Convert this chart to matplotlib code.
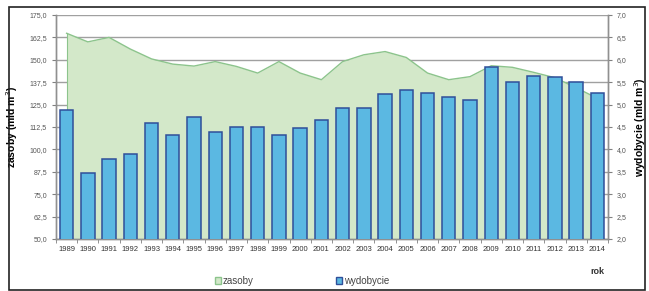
import matplotlib
matplotlib.use("Agg")
import matplotlib.pyplot as plt
from matplotlib.patches import Rectangle, Patch
import numpy as np

years = [str(y) for y in range(1989, 2015)]
zasoby = [164.8, 160.0, 162.5, 156.0, 150.5, 147.6, 146.5, 149.0, 146.3, 142.6,
          149.0, 142.6, 138.9, 149.0, 152.8, 154.6, 151.3, 142.6, 138.9, 140.6,
          146.7, 145.8, 143.0, 140.0, 134.4, 128.5]
wydobycie = [4.89, 3.47, 3.78, 3.90, 4.59, 4.33, 4.73, 4.38, 4.50, 4.50,
             4.33, 4.48, 4.65, 4.92, 4.92, 5.23, 5.32, 5.26, 5.18, 5.11,
             5.84, 5.50, 5.64, 5.62, 5.50, 5.26]
left_ticks = [50.0, 62.5, 75.0, 87.5, 100.0, 112.5, 125.0, 137.5, 150.0, 162.5, 175.0]
right_ticks = [2.0, 2.5, 3.0, 3.5, 4.0, 4.5, 5.0, 5.5, 6.0, 6.5, 7.0]

plt.rcParams['font.family'] = ['Liberation Sans', 'DejaVu Sans']

fig = plt.figure(figsize=(6.49, 2.91), dpi=100)
ax = fig.add_axes([56/649, 1-239/291, (608-56)/649, (239-15)/291])
x = np.arange(len(years))

area_fill = '#d3e8c9'
area_line = '#8cc48c'
bar_fill = '#5bb8e2'
bar_edge = '#2f4f9a'

ax.set_ylim(50, 175)
ax.set_xlim(-0.5, len(years) - 0.5)
ax.set_yticks(left_ticks)
ax.set_yticklabels([f"{v:.1f}".replace('.', ',') for v in left_ticks])
ax.grid(axis='y', color='#a0a0a0', linewidth=1.0, zorder=0)
ax.set_axisbelow(True)
ax.fill_between(x, 50, zasoby, color=area_fill, zorder=1, linewidth=0)
ax.plot(x, zasoby, color=area_line, linewidth=1.0, zorder=2)
ax.plot([x[0], x[0]], [50, zasoby[0]], color=area_line, linewidth=0.8, zorder=2)

ax2 = ax.twinx()
ax2.set_ylim(2.0, 7.0)
ax2.set_yticks(right_ticks)
ax2.set_yticklabels([f"{v:.1f}".replace('.', ',') for v in right_ticks])
ax2.bar(x, wydobycie, width=0.63, color=bar_fill, edgecolor=bar_edge, linewidth=1.1, zorder=3)

ax.set_xticks(x)
ax.set_xticklabels(years)
ax.set_xticks(np.arange(-0.5, len(years), 1), minor=True)
ax.tick_params(axis='x', which='major', length=0, labelsize=5.5, colors='#333333', pad=5)
ax.tick_params(axis='x', which='minor', length=3, color='#808080', direction='out')
ax.tick_params(axis='y', labelsize=5.0, colors='#555555', length=3, color='#808080')
ax2.tick_params(axis='y', labelsize=5.0, colors='#555555', length=3, color='#808080')

for a in (ax, ax2):
    a.spines['top'].set_visible(False)
    for s in ('left', 'right', 'bottom'):
        a.spines[s].set_color('#909090')
        a.spines[s].set_linewidth(1.0)

ax.set_ylabel('zasoby (mld m$^3$)', fontsize=7.5, fontweight='bold')
ax.yaxis.set_label_coords((20-56)/552, 0.5)
ax2.set_ylabel('wydobycie (mld m$^3$)', fontsize=7.5, fontweight='bold')
ax2.yaxis.set_label_coords((632-56)/552, 0.5)

fig.text(597/649, 1-271/291, 'rok', fontsize=6.5, fontweight='bold', ha='center', va='center', color='#333333')

handles = [Patch(facecolor=area_fill, edgecolor=area_line, label='zasoby'),
           Patch(facecolor=bar_fill, edgecolor=bar_edge, label='wydobycie')]
leg = fig.legend(handles=handles, loc='center', bbox_to_anchor=(302/649, 1-281/291), ncol=2,
                 frameon=False, fontsize=7, handlelength=0.6, handleheight=0.6,
                 handletextpad=0.2, columnspacing=8.5)
for t in leg.get_texts():
    t.set_color('#444444')

fig.patches.append(Rectangle((9/649, 1-290/291), (645-9)/649, (290-7)/291, transform=fig.transFigure,
                             fill=False, edgecolor='#222222', linewidth=1.2))

fig.savefig('out.png', dpi=100)
